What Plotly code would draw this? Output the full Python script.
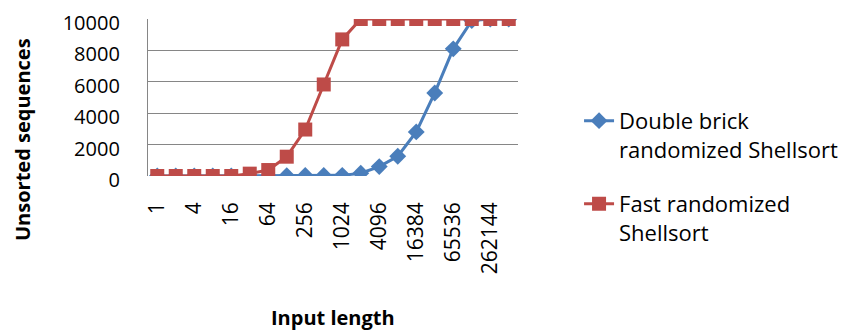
import plotly.graph_objects as go

categories = [str(2 ** i) for i in range(20)]
tick_labels = ["1", "4", "16", "64", "256", "1024", "4096", "16384", "65536", "262144"]
y_ticks = [0, 2000, 4000, 6000, 8000, 10000]
y_tick_labels = ["0", "2000", "4000", "6000", "8000", "10000"]
double_brick = [0, 0, 0, 0, 0, 0, 0, 20, 30, 30, 40, 180, 600, 1260, 2810, 5290, 8100, 9900, 10000, 10000]
fast_random = [0, 0, 0, 0, 0, 150, 380, 1230, 2960, 5830, 8700, 10000, 10000, 10000, 10000, 10000, 10000, 10000, 10000, 10000]

FONT = "Open Sans"

fig = go.Figure()
fig.add_trace(go.Scatter(
    x=categories, y=double_brick, mode="lines+markers",
    name="Double brick<br>randomized Shellsort", legendgroup="a",
    line=dict(color="#4A7EBB", width=3),
    marker=dict(symbol="diamond", size=13, color="#4A7EBB"),
))
fig.add_trace(go.Scatter(
    x=categories, y=fast_random, mode="lines+markers",
    name="Fast randomized<br>Shellsort", legendgroup="b",
    line=dict(color="#BE4B48", width=3),
    marker=dict(symbol="square", size=14, color="#BE4B48"),
))

fig.update_layout(
    width=839, height=325,
    margin=dict(l=140, r=329, t=11, b=157, autoexpand=False),
    paper_bgcolor="white", plot_bgcolor="white",
    font=dict(family=FONT, size=22, color="black"),
    showlegend=True,
    legend=dict(x=1.165, xanchor="left", y=0.485, yanchor="top",
                valign="top", tracegroupgap=23,
                font=dict(family=FONT, size=22, color="black"),
                bgcolor="rgba(0,0,0,0)"),
    xaxis=dict(
        type="category", range=[-0.5, 19.5], automargin=False,
        tickmode="array", tickvals=categories[::2], ticktext=tick_labels,
        tickangle=-90, showgrid=False, zeroline=False,
        showline=False, ticks="", ticklabelstandoff=21,
        tickfont=dict(family=FONT, size=21, color="black"),
    ),
    yaxis=dict(
        range=[0, 10000], automargin=False, ticklabeloverflow="allow",
        tickmode="array", tickvals=y_ticks, ticktext=y_tick_labels,
        showgrid=True, gridcolor="#868686", gridwidth=1.3,
        zeroline=False, showline=True, linecolor="#868686", linewidth=1.3,
        ticks="", ticklabelstandoff=23, ticklabelshift=4,
        tickfont=dict(family=FONT, size=20, color="black"),
    ),
    annotations=[
        dict(text="<b>Input length</b>", xref="paper", yref="paper",
             x=0.5, y=(176 - 317) / 157, xanchor="center", yanchor="middle",
             showarrow=False, font=dict(family=FONT, size=20, color="black")),
        dict(text="<b>Unsorted sequences</b>", xref="paper", yref="paper",
             x=(22 - 148) / 370, y=(176 - 140) / 157, xanchor="center", yanchor="middle",
             textangle=-90, showarrow=False,
             font=dict(family=FONT, size=20, color="black")),
    ],
)

fig.write_html("out.html")
